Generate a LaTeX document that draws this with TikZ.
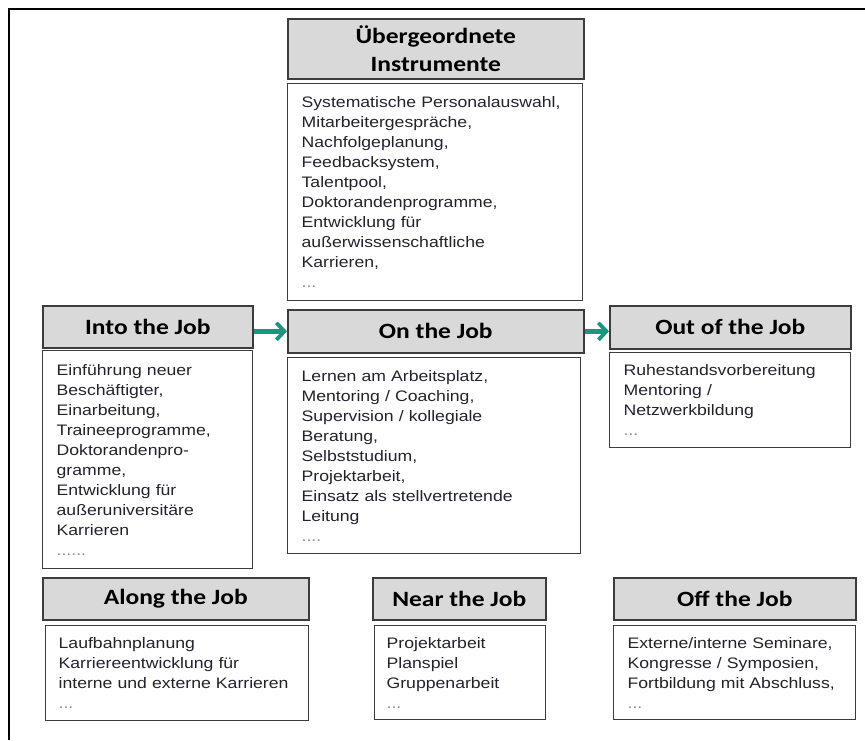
\documentclass[tikz,border=0pt]{standalone}
\usepackage{fontspec}
\setmainfont{Liberation Sans}[FakeStretch=1.16]
\newfontfamily\kopffont{Carlito}[FakeStretch=1.17]
\usetikzlibrary{arrows.meta}
\definecolor{kopfgrau}{HTML}{D9D9D9}
\definecolor{rahmen}{HTML}{3C3C3C}
\definecolor{petrol}{HTML}{17977D}
\definecolor{schrift}{HTML}{22222E}
\definecolor{punkte}{HTML}{8A8A8A}
\begin{document}
\begin{tikzpicture}[x=1pt, y=-1pt,
	kopf/.style={draw=rahmen, line width=1.6pt, fill=kopfgrau, anchor=north west, inner sep=0pt, align=center, font=\kopffont\bfseries\fontsize{21.8}{28}\selectfont},
	liste/.style={draw=rahmen, line width=1.3pt, anchor=north west, inner xsep=14pt, inner ysep=0pt, align=left, text=schrift, font=\fontsize{15.2}{20}\selectfont},
	pfeil/.style={-{Straight Barb[length=8pt,width=17pt,line width=3.8pt]}, line width=4.5pt, draw=petrol}]
	\useasboundingbox (0,0) rectangle (865,740);
	\draw[line width=2.5pt](9,740)--(9,9)--(865,9);
	\node[kopf, minimum width=296pt, minimum height=60pt] (uebH) at (287,18) {Übergeordnete\\Instrumente};
	\node[liste, text width=267pt, minimum height=217pt] (uebL) at (287,83) {Systematische Personalauswahl,\\Mitarbeitergespräche,\\Nachfolgeplanung,\\Feedbacksystem,\\Talentpool,\\Doktorandenprogramme,\\Entwicklung für\\außerwissenschaftliche\\Karrieren,\\\textcolor{punkte}{...}};
	\node[kopf, minimum width=210pt, minimum height=42pt] (intoH) at (42,305) {Into the Job};
	\node[liste, text width=182pt, minimum height=218pt] (intoL) at (42,350) {Einführung neuer\\Beschäftigter,\\Einarbeitung,\\Traineeprogramme,\\Doktorandenpro-\\gramme,\\Entwicklung für\\außeruniversitäre\\Karrieren\\\textcolor{punkte}{......}};
	\node[kopf, minimum width=296pt, minimum height=43pt] (onH) at (287,309) {On the Job};
	\node[liste, text width=265pt, minimum height=196pt] (onL) at (287,357) {Lernen am Arbeitsplatz,\\Mentoring / Coaching,\\Supervision / kollegiale\\Beratung,\\Selbststudium,\\Projektarbeit,\\Einsatz als stellvertretende\\Leitung\\\textcolor{punkte}{....}};
	\node[kopf, minimum width=241pt, minimum height=43pt] (outH) at (609,305) {Out of the Job};
	\node[liste, text width=213pt, minimum height=95pt] (outL) at (609,352) {Ruhestandsvorbereitung\\Mentoring /\\Netzwerkbildung\\\textcolor{punkte}{...}};
	\node[kopf, minimum width=266pt, minimum height=42pt] (alongH) at (42,577) {Along the Job};
	\node[liste, inner xsep=13pt, text width=237pt, minimum height=95pt] (alongL) at (45,625) {Laufbahnplanung\\Karriereentwicklung für\\interne und externe Karrieren\\\textcolor{punkte}{...}};
	\node[kopf, minimum width=173pt, minimum height=42pt] (nearH) at (372,577) {Near the Job};
	\node[liste, inner xsep=12pt, text width=147pt, minimum height=94pt] (nearL) at (374,625) {Projektarbeit\\Planspiel\\Gruppenarbeit\\\textcolor{punkte}{...}};
	\node[kopf, minimum width=242pt, minimum height=42pt] (offH) at (613,577) {Off the Job};
	\node[liste, text width=214pt, minimum height=94pt] (offL) at (613,625) {Externe/interne Seminare,\\Kongresse / Symposien,\\Fortbildung mit Abschluss,\\\textcolor{punkte}{...}};
	\draw[pfeil](intoH.east |- onH.west)--(onH.west);
	\draw[pfeil](onH.east)--(outH.west |- onH.east);
\end{tikzpicture}
\end{document}
